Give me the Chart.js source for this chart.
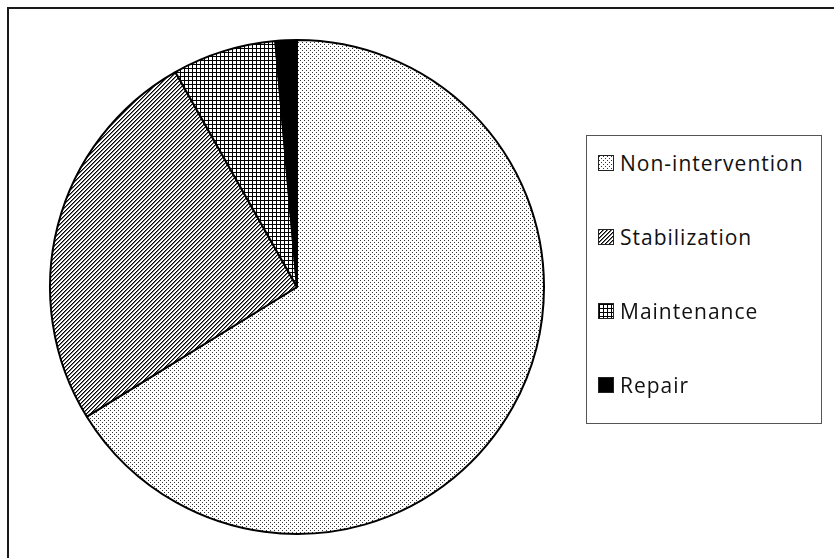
<!DOCTYPE html>
<html lang="en">
<head>
    <meta charset="UTF-8">
    <title>Intervention types</title>
    <script src="https://cdn.jsdelivr.net/npm/chart.js"></script>
    <style>
        html, body { margin: 0; padding: 0; background: #fff; }
        .wrap { position: relative; width: 834px; height: 558px; overflow: hidden; }
        .frame { position: absolute; left: 7px; top: 7px; right: -10px; bottom: -10px;
                 border-top: 2px solid #1a1a1a; border-left: 2px solid #1a1a1a; }
        #pieChart { position: absolute; left: 0; top: 0; }
        .legend { position: absolute; left: 586px; top: 135px; width: 236px; height: 289px;
                  border: 1px solid #555; box-sizing: border-box; background: #fff;
                  font-family: "Open Sans", "Noto Sans", sans-serif; font-size: 21px;
                  letter-spacing: 1px; color: #111; }
        .item { position: absolute; left: 11px; display: flex; align-items: center; }
        .item canvas { border: 1px solid #222; margin-right: 6px; }
    </style>
</head>
<body>
<div class="wrap">
    <div class="frame"></div>
    <canvas id="pieChart" width="834" height="558"></canvas>
    <div class="legend" id="legend"></div>
</div>
<script>
// values (percent of sites)
const categories = ['Non-intervention', 'Stabilization', 'Maintenance', 'Repair'];
const shares = [66.2, 25.6, 6.8, 1.4];
const patternKinds = ['dots', 'diagonal', 'grid', 'solid'];

function makePattern(kind) {
    const c = document.createElement('canvas');
    c.width = 4; c.height = 4;
    const g = c.getContext('2d');
    g.fillStyle = '#fff';
    g.fillRect(0, 0, 4, 4);
    g.fillStyle = '#000';
    if (kind === 'dots') {
        g.fillStyle = '#333';
        g.fillRect(0, 0, 1, 1);
        g.fillRect(2, 2, 1, 1);
    } else if (kind === 'diagonal') {
        for (let i = 0; i < 4; i++) {
            g.fillRect(3 - i, i, 1, 1);
        }
        g.fillStyle = '#777';
        for (let i = 0; i < 4; i++) {
            g.fillRect((4 - i) % 4, i, 1, 1);
        }
    } else if (kind === 'grid') {
        g.fillRect(0, 0, 4, 1);
        g.fillRect(0, 0, 1, 4);
    } else {
        g.fillRect(0, 0, 4, 4);
    }
    return g.createPattern(c, 'repeat');
}

const ctx = document.getElementById('pieChart').getContext('2d');
const fills = patternKinds.map(makePattern);

new Chart(ctx, {
    type: 'pie',
    data: {
        labels: categories,
        datasets: [{
            data: shares,
            backgroundColor: fills,
            borderColor: '#000',
            borderWidth: 2
        }]
    },
    options: {
        responsive: false,
        animation: false,
        layout: { padding: { top: 39, bottom: 23, left: 49, right: 289 } },
        plugins: {
            legend: { display: false },
            tooltip: { enabled: false }
        }
    }
});

// legend box on the right
const legend = document.getElementById('legend');
const rowTops = [13, 87, 161, 235];
categories.forEach((name, i) => {
    const row = document.createElement('div');
    row.className = 'item';
    row.style.top = rowTops[i] + 'px';
    const sw = document.createElement('canvas');
    sw.width = 14; sw.height = 14;
    const sg = sw.getContext('2d');
    sg.fillStyle = makePattern(patternKinds[i]);
    sg.fillRect(0, 0, 14, 14);
    row.appendChild(sw);
    const t = document.createElement('span');
    t.textContent = name;
    row.appendChild(t);
    legend.appendChild(row);
});
</script>
</body>
</html>
